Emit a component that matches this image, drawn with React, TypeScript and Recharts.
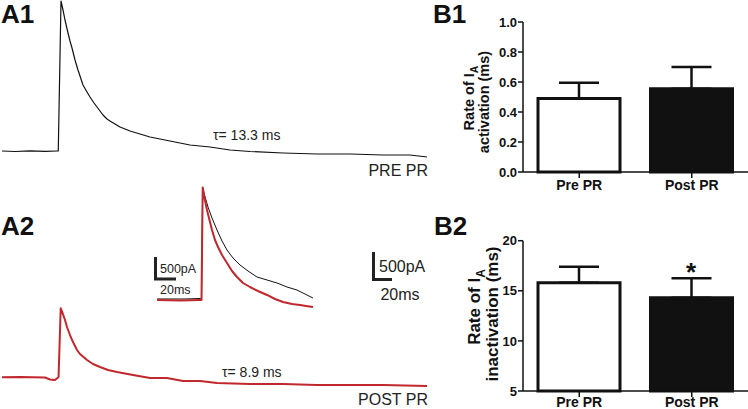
import React from 'react';
import { LineChart, Line, XAxis, YAxis, BarChart, Bar, Cell, ErrorBar } from 'recharts';

// A1: pre PR current trace (time ms, current pA)
const preTime = [-61.6, -47.3, -30.8, -14.3, -1.1, 0.3, 3.3, 5.5, 7.7, 11, 13.2, 15.4, 18.7, 22, 24.2, 27.5, 31.9, 35.2, 39.6, 42.9, 46.2, 49.5, 53.9, 57.2, 62.7, 68.2, 73.7, 79.2, 90.2, 101.2, 112.2, 123.2, 134.2, 145.2, 156.2, 167.2, 178.2, 189.2, 211.2, 247.5, 284.9, 321.2, 357.5, 387.2, 405.9];
const preCurrent = [0, -9, 4, -5, 0, 0, 2700, 2538, 2358, 2124, 1980, 1854, 1638, 1458, 1350, 1188, 1062, 972, 864, 792, 720, 648, 576, 540, 486, 432, 396, 360, 306, 252, 216, 180, 144, 108, 90, 72, 45, 18, -9, -36, -54, -54, -72, -72, -108];

// A2: post PR current trace
const postTime = [-61.6, -41.8, -14.3, -8.8, -3.3, -0.6, 0.6, 3, 4.4, 7.7, 9.9, 13.2, 16.5, 20.9, 24.2, 31.9, 38.5, 46.2, 55, 64.9, 73.7, 82.5, 101.2, 119.9, 137.5, 156.2, 174.9, 211.2, 247.5, 284.9, 321.2, 357.5, 405.9];
const postCurrent = [0, 5, -4, -40, -49, -13, 5, 1242, 1187, 1031, 905, 761, 635, 491, 419, 311, 239, 185, 131, 95, 68, 41, -13, -13, -67, -67, -103, -121, -121, -139, -139, -139, -157];

// inset: peak-scaled overlay of both traces
const insetPreTime = [-44.5, -16.5, -1, 0, 1.2, 3, 6.5, 10.5, 15.5, 20.5, 25.5, 31.5, 38.5, 46.5, 55.5, 65.5, 75.5, 85.5, 95.5, 103.5, 111.5];
const insetPreCurrent = [22, 22, 33, 33, 2441, 2279, 2018, 1779, 1519, 1280, 1085, 911, 760, 629, 499, 434, 369, 282, 217, 130, 43];
const insetPostTime = [-44.5, -21.5, -1.5, 0, 1.2, 3, 5.5, 10.5, 13.5, 16.5, 20.5, 25.5, 30.5, 35.5, 41.5, 48.5, 56.5, 65.5, 73.5, 81.5, 90.5, 98.5, 104.5, 111.5];
const insetPostCurrent = [0, -11, 0, 0, 2441, 2213, 1953, 1519, 1302, 1150, 976, 803, 629, 499, 369, 282, 195, 109, 22, -43, -87, -109, -130, -152];

// B1 / B2 group summaries (mean + SEM)
const groups = ['Pre PR', 'Post PR'];
const activationMean = [0.49, 0.555];
const activationSem = [0.105, 0.145];
const inactivationMean = [15.8, 14.3];
const inactivationSem = [1.6, 1.95];
const activationTicks = [0, 0.2, 0.4, 0.6, 0.8, 1.0];
const inactivationTicks = [5, 10, 15, 20];
const barFills = ['#ffffff', '#111111'];

const RED = '#c0282d';
const INK = '#111';
const FONT = 'Arial, "Liberation Sans", Helvetica, sans-serif';

const toPoints = (t: number[], i: number[]) => t.map((v, k) => ({ t: v, i: i[k] }));

const activationData = groups.map((g, k) => ({
  group: g,
  mean: activationMean[k],
  err: [0, activationSem[k]],
}));
const inactivationData = groups.map((g, k) => ({
  group: g,
  mean: inactivationMean[k],
  err: [0, inactivationSem[k]],
}));

type Series = { data: { t: number; i: number }[]; color: string; width: number };

function Trace({ left, top, width, height, xDomain, yDomain, series }: {
  left: number; top: number; width: number; height: number;
  xDomain: [number, number]; yDomain: [number, number]; series: Series[];
}) {
  return (
    <div style={{ position: 'absolute', left, top }}>
      <LineChart width={width} height={height} margin={{ top: 0, right: 0, bottom: 0, left: 0 }}>
        <XAxis type="number" dataKey="t" domain={xDomain} hide allowDataOverflow />
        <YAxis type="number" domain={yDomain} hide allowDataOverflow />
        {series.map((s, k) => (
          <Line
            key={k}
            data={s.data}
            dataKey="i"
            type="linear"
            stroke={s.color}
            strokeWidth={s.width}
            strokeLinejoin="round"
            dot={false}
            activeDot={false}
            isAnimationActive={false}
          />
        ))}
      </LineChart>
    </div>
  );
}

const tickStyle = { fill: INK, fontSize: 13, fontWeight: 700, fontFamily: FONT };
const catStyle = { fill: INK, fontSize: 14, fontWeight: 700, fontFamily: FONT };

function GroupBars({ top, height, marginTop, data, domain, ticks, fmt, labelGap }: {
  top: number; height: number; marginTop: number;
  data: { group: string; mean: number; err: number[] }[];
  domain: [number, number]; ticks: number[]; fmt: (v: number) => string; labelGap: number;
}) {
  return (
    <div style={{ position: 'absolute', left: 440, top }}>
      <BarChart width={308} height={height} data={data} barSize={82}
        margin={{ top: marginTop, right: 0, bottom: 0, left: 0 }}>
        <XAxis dataKey="group" height={28} tick={catStyle} tickSize={6} tickMargin={labelGap}
          axisLine={{ stroke: INK, strokeWidth: 1.5 }} tickLine={{ stroke: INK, strokeWidth: 1.5 }} />
        <YAxis width={83} domain={domain} ticks={ticks} tickFormatter={fmt} tick={tickStyle}
          tickSize={5} tickMargin={1} interval={0}
          axisLine={{ stroke: INK, strokeWidth: 1.5 }} tickLine={{ stroke: INK, strokeWidth: 1.5 }} />
        <Bar dataKey="mean" stroke={INK} strokeWidth={3} isAnimationActive={false}>
          {data.map((d, k) => <Cell key={d.group} fill={barFills[k]} />)}
          <ErrorBar dataKey="err" direction="y" width={20} stroke={INK} strokeWidth={2.5} isAnimationActive={false} />
        </Bar>
      </BarChart>
    </div>
  );
}

export default function App() {
  return (
    <div style={{ position: 'absolute', left: 0, top: 0, width: 748, height: 409, overflow: 'hidden', background: '#fff', fontFamily: FONT }}>
      <Trace left={0} top={0} width={440} height={170} xDomain={[-63.8, 420.2]} yDomain={[-342, 2718]}
        series={[{ data: toPoints(preTime, preCurrent), color: INK, width: 1.2 }]} />
      <Trace left={0} top={290} width={440} height={110} xDomain={[-63.8, 420.2]} yDomain={[-408.6, 1571.4]}
        series={[{ data: toPoints(postTime, postCurrent), color: RED, width: 2 }]} />
      <Trace left={150} top={180} width={170} height={135} xDomain={[-51.5, 118.5]} yDomain={[-325.5, 2604]}
        series={[
          { data: toPoints(insetPreTime, insetPreCurrent), color: INK, width: 1 },
          { data: toPoints(insetPostTime, insetPostCurrent), color: RED, width: 2 },
        ]} />

      <GroupBars top={0} height={200} marginTop={22} data={activationData} domain={[0, 1]}
        ticks={activationTicks} fmt={(v) => v.toFixed(1)} labelGap={2} />
      <GroupBars top={200} height={219} marginTop={40.7} data={inactivationData} domain={[5, 20]}
        ticks={inactivationTicks} fmt={(v) => String(v)} labelGap={0} />

      <svg width={748} height={409} style={{ position: 'absolute', left: 0, top: 0, pointerEvents: 'none' }}>
        <g fontWeight={700} fontSize={26} fill={INK}>
          <text x={1} y={23}>A1</text>
          <text x={1} y={235}>A2</text>
          <text x={433} y={23}>B1</text>
          <text x={434} y={235}>B2</text>
        </g>
        <g fill="#222" fontSize={14}>
          <text x={213} y={140}>τ= 13.3 ms</text>
          <text x={222} y={377}>τ= 8.9 ms</text>
        </g>
        <g fill="#222" fontSize={16} textAnchor="end">
          <text x={428} y={176}>PRE PR</text>
          <text x={428} y={405}>POST PR</text>
        </g>
        {/* scale bars */}
        <path d="M373.5 252 V279.5 H392" stroke="#222" strokeWidth={3} fill="none" />
        <text x={379} y={272} fontSize={16} fill="#222">500pA</text>
        <text x={400} y={300} fontSize={16} fill="#222" textAnchor="middle">20ms</text>
        <path d="M155.5 257 V279 H176" stroke="#222" strokeWidth={3} fill="none" />
        <text x={160} y={273} fontSize={12.5} fill="#222">500pA</text>
        <text x={160} y={294} fontSize={12.5} fill="#222">20ms</text>
        {/* y axis titles */}
        <g fontWeight={700} fill={INK} textAnchor="middle">
          <text transform="translate(474,98) rotate(-90)" fontSize={14.5}>
            Rate of I<tspan fontSize={10.5} dy={4}>A</tspan>
          </text>
          <text transform="translate(489,102) rotate(-90)" fontSize={14.5}>activation (ms)</text>
          <text transform="translate(480,307) rotate(-90)" fontSize={17}>
            Rate of I<tspan fontSize={12} dy={5}>A</tspan>
          </text>
          <text transform="translate(498,314) rotate(-90)" fontSize={17}>inactivation (ms)</text>
        </g>
        <text x={691} y={281} fontSize={26} fontWeight={700} fill={INK} textAnchor="middle">*</text>
      </svg>
    </div>
  );
}
